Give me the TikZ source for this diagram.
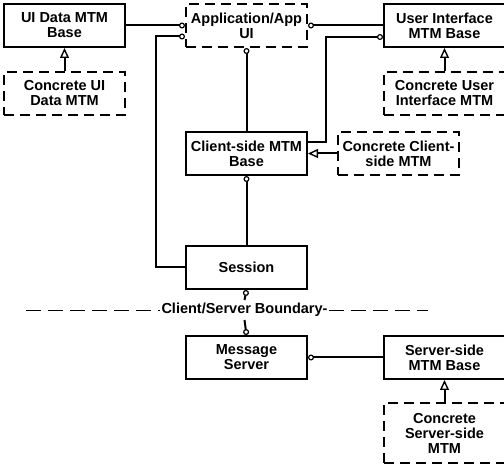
\documentclass[tikz,border=0pt]{standalone}
\usepackage{fontspec}
\setmainfont{Liberation Sans}
\usetikzlibrary{arrows.meta, positioning}

\begin{document}
\begin{tikzpicture}[
    node distance=23pt and 59pt,
    block/.style={draw, line width=2pt, minimum width=121pt, minimum height=43pt, align=center, inner sep=1pt, font=\bfseries\fontsize{14.5}{15}\selectfont},
    concrete/.style={block, dash pattern=on 10pt off 6pt},
    link/.style={-{Circle[open, length=6pt, line width=1.2pt]}, line width=2pt},
    inherit/.style={-{Triangle[open, length=10pt, width=9pt, line width=1.4pt]}, line width=2pt},
    boundary/.style={line width=0.9pt, dash pattern=on 15pt off 7pt},
    bndlabel/.style={fill=white, inner sep=1pt, font=\bfseries\fontsize{14.5}{15}\selectfont}
]
    \useasboundingbox (0,0) rectangle (504pt,-465pt);

    % Client side
    \node[block] (uidata) at (64.5pt,-25.5pt) {UI Data MTM\\Base};
    \node[concrete, right=59pt of uidata] (app) {Application/App\\UI};
    \node[block, right=75pt of app] (uibase) {User Interface\\MTM Base};
    \node[concrete, below=23pt of uidata] (concuidata) {Concrete UI\\Data MTM};
    \node[concrete, below=23pt of uibase] (concuibase) {Concrete User\\Interface MTM};
    \node[block, below=83pt of app] (client) {Client-side MTM\\Base};
    \node[concrete, right=29pt of client] (concclient) {Concrete Client-\\side MTM};
    \node[block, below=69pt of client] (session) {Session};

    % Server side
    \node[block, below=45pt of session] (msgserver) {Message\\Server};
    \node[block, right=75pt of msgserver] (serverbase) {Server-side\\MTM Base};
    \node[concrete, below=22pt of serverbase, minimum height=60pt] (concserver) {Concrete\\Server-side\\MTM};

    % Boundary
    \node[bndlabel] (bndtext) at (244.5pt,-310pt) {Client/Server Boundary-};
    \coordinate (bndleft) at (26pt,-310pt);
    \coordinate (bndright) at (428pt,-310pt);
    \coordinate (sessionend) at (244.5pt,-300pt);
    \coordinate (serverend) at (244.5pt,-320pt);
    \draw[boundary] (bndleft) -- (bndtext.west);
    \draw[boundary] (bndtext.east) -- (bndright);

    % Associations
    \draw[link] (uidata) -- (app);
    \draw[link] (uibase) -- (app);
    \draw[link] (client) -- (app);
    \draw[link] (session) -- (client);
    \draw[link] (session.west) -- ++(-29pt,0) |- ([yshift=-11pt]app.west);
    \draw[link] ([yshift=11pt]client.east) -- ++(18pt,0) |- ([yshift=-11.5pt]uibase.west);
    \draw[link] (sessionend) -- (session.south);
    \draw[link] (serverend) -- (msgserver.north);
    \draw[link] (serverbase) -- (msgserver);

    % Inheritance
    \draw[inherit] (concuidata) -- (uidata);
    \draw[inherit] (concuibase) -- (uibase);
    \draw[inherit] (concclient) -- (client);
    \draw[inherit] (concserver) -- (serverbase);
\end{tikzpicture}
\end{document}
